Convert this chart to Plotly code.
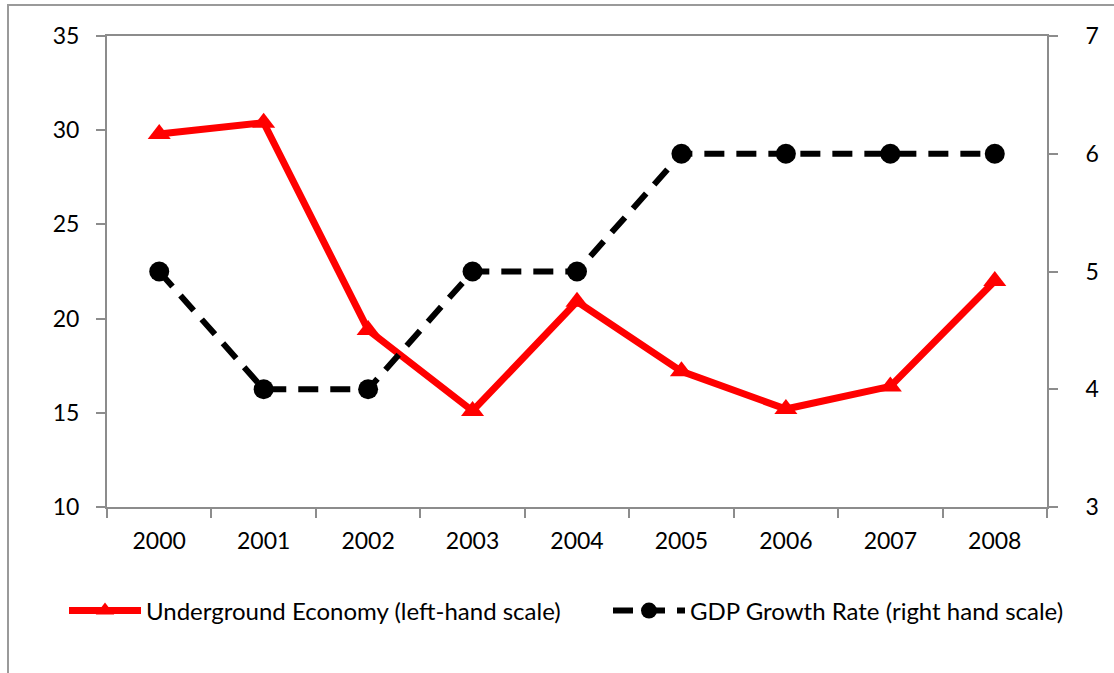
import plotly.graph_objects as go

years = ["2000", "2001", "2002", "2003", "2004", "2005", "2006", "2007", "2008"]
underground_economy = [29.8, 30.4, 19.4, 15.1, 20.9, 17.2, 15.2, 16.4, 22.0]
gdp_growth = [5, 4, 4, 5, 5, 6, 6, 6, 6]

left_ticks = [10, 15, 20, 25, 30, 35]
right_ticks = [3, 4, 5, 6, 7]

W, H = 1114, 673
L, R, T, B = 107, 1047, 36, 507  # plot area in pixels

FONT = "Lato, 'Open Sans', sans-serif"
GRAY = "#8c8c8c"


def px_x(p):
    return (p - L) / (R - L)


def px_y(p):
    return (B - p) / (B - T)


fig = go.Figure()
fig.add_trace(go.Scatter(
    x=years, y=underground_economy, name="Underground Economy (left-hand scale)",
    mode="lines+markers",
    line=dict(color="#ff0000", width=7),
    marker=dict(symbol="triangle-up", size=20, color="#ff0000"),
    yaxis="y", legend="legend",
))
fig.add_trace(go.Scatter(
    x=years, y=gdp_growth, name="GDP Growth Rate (right hand scale)",
    mode="lines+markers",
    line=dict(color="#000000", width=6, dash="20px,12px"),
    marker=dict(symbol="circle", size=20, color="#000000"),
    yaxis="y2", legend="legend2",
))

axis_common = dict(
    showgrid=False, zeroline=False, showline=True, linecolor=GRAY, linewidth=2,
    ticks="outside", ticklen=9, tickwidth=2, tickcolor=GRAY,
    tickfont=dict(family=FONT, size=23, color="#000000"),
)

legend_common = dict(
    orientation="h", xanchor="left", y=px_y(611), yanchor="middle",
    font=dict(family=FONT, size=24, color="#000000"),
    itemwidth=72, bgcolor="rgba(0,0,0,0)",
)

fig.update_layout(
    width=W, height=H,
    margin=dict(l=L, r=W - R, t=T, b=H - B, pad=0),
    paper_bgcolor="white", plot_bgcolor="white",
    font=dict(family=FONT, size=24, color="#000000"),
    showlegend=True,
    legend=dict(**legend_common, x=px_x(64)),
    legend2=dict(**legend_common, x=px_x(608)),
    xaxis=dict(
        **axis_common, type="category", tickson="boundaries",
        range=[-0.5, 8.5], mirror=True, ticklabelstandoff=12,
    ),
    yaxis=dict(
        **axis_common, range=[10, 35], tickvals=left_ticks, mirror=False,
        ticklabelstandoff=12,
    ),
    yaxis2=dict(
        **axis_common, range=[3, 7], tickvals=right_ticks, overlaying="y",
        side="right", ticklabelstandoff=23,
    ),
    shapes=[
        # outer chart frame (right and bottom edges fall outside the page)
        dict(type="rect", xref="paper", yref="paper",
             x0=px_x(8), x1=1.3, y0=-0.5, y1=px_y(5),
             line=dict(color="#9a9a9a", width=2), fillcolor="rgba(0,0,0,0)",
             layer="below"),
    ],
)

fig.write_html("out.html")
